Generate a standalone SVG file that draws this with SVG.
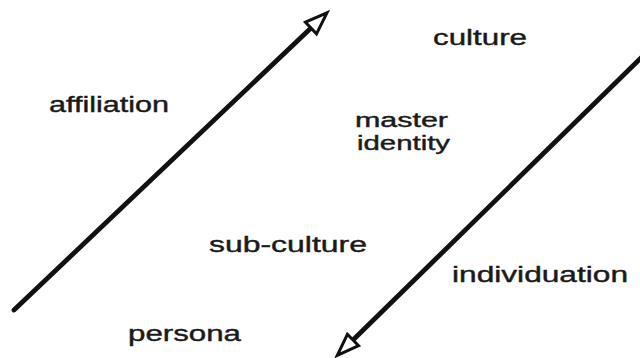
<svg xmlns="http://www.w3.org/2000/svg" width="640" height="358" viewBox="0 0 640 358">
<style>
.t{font-family:"Liberation Sans",Arial,sans-serif;font-size:22px;fill:#1a1a1a;stroke:#1a1a1a;stroke-width:0.4}
.s{font-size:20px}
.ln{stroke:#111;stroke-width:4.8;stroke-linecap:round;fill:none}
</style>
<defs>
<marker id="ah" markerUnits="userSpaceOnUse" markerWidth="30" markerHeight="24" viewBox="-3 -12 30 24" refX="0" refY="0" orient="auto" overflow="visible">
<path d="M0,-8 L22,0 L0,8 Z" fill="#fff" stroke="#111" stroke-width="3" stroke-linejoin="miter"/>
</marker>
</defs>
<rect width="640" height="358" fill="#fff"/>
<g id="connectors">
<line class="ln" x1="14" y1="310" x2="311" y2="28" marker-end="url(#ah)"/>
<line class="ln" x1="642" y1="57" x2="353" y2="340" marker-end="url(#ah)"/>
</g>
<g id="culture"><text class="t" x="433" y="45" textLength="94" lengthAdjust="spacingAndGlyphs">culture</text></g>
<g id="affiliation"><text class="t" x="49" y="112" textLength="120" lengthAdjust="spacingAndGlyphs">affiliation</text></g>
<g id="master-identity"><text class="t s" x="355" y="127" textLength="93" lengthAdjust="spacingAndGlyphs">master</text><text class="t s" x="357" y="150" textLength="93" lengthAdjust="spacingAndGlyphs">identity</text></g>
<g id="sub-culture"><text class="t" x="209" y="252" textLength="158" lengthAdjust="spacingAndGlyphs">sub-culture</text></g>
<g id="individuation"><text class="t" x="452" y="282" textLength="176" lengthAdjust="spacingAndGlyphs">individuation</text></g>
<g id="persona"><text class="t" x="128" y="341" textLength="113" lengthAdjust="spacingAndGlyphs">persona</text></g>
</svg>
